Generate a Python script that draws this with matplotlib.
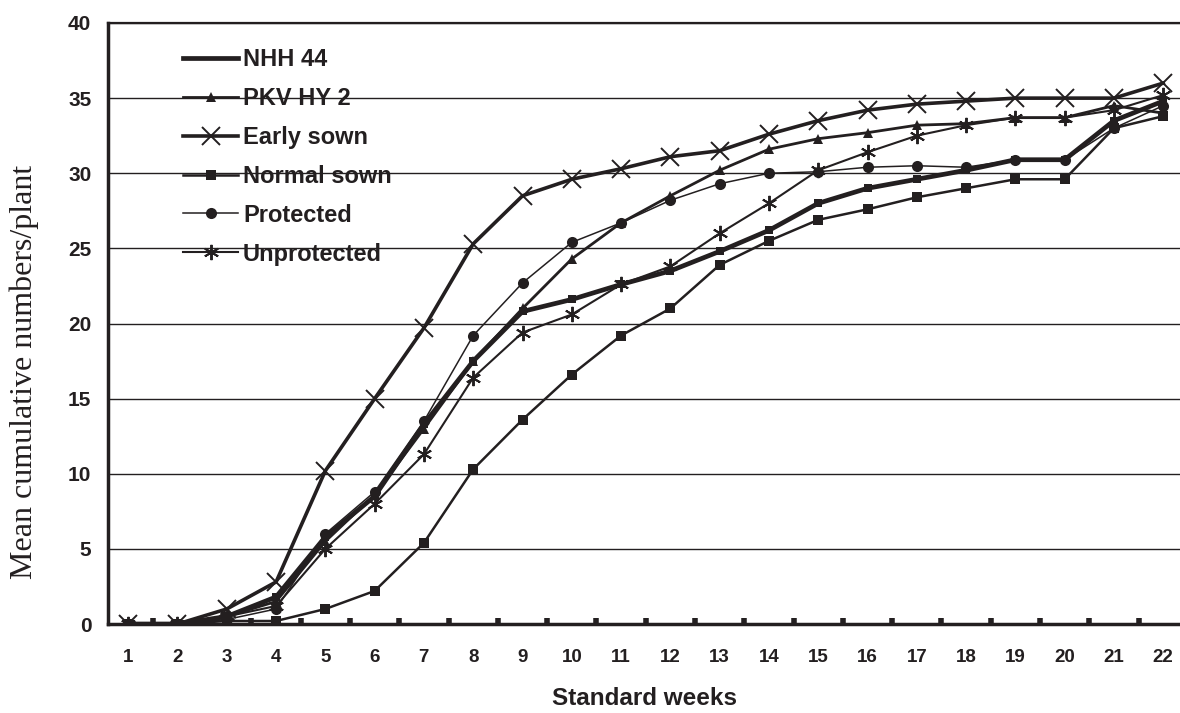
import matplotlib
matplotlib.use("Agg")
import matplotlib.pyplot as plt
from matplotlib.lines import Line2D

weeks = list(range(1, 23))

nhh44 = [0, 0, 0.5, 1.8, 5.8, 8.5, 13.3, 17.5, 20.8, 21.6, 22.6, 23.5, 24.8, 26.2,
         28.0, 29.0, 29.6, 30.2, 30.9, 30.9, 33.5, 34.8]
pkv_hy2 = [0, 0, 0.5, 1.5, 5.5, 8.6, 13.0, 17.5, 21.0, 24.3, 26.7, 28.5, 30.2, 31.6,
           32.3, 32.7, 33.2, 33.3, 33.7, 33.7, 34.5, 34.0]
early_sown = [0, 0, 1.0, 2.8, 10.2, 15.0, 19.7, 25.3, 28.5, 29.6, 30.3, 31.1, 31.5, 32.6,
              33.5, 34.2, 34.6, 34.8, 35.0, 35.0, 35.0, 36.0]
normal_sown = [0, 0, 0.2, 0.2, 1.0, 2.2, 5.4, 10.3, 13.6, 16.6, 19.2, 21.0, 23.9, 25.5,
               26.9, 27.6, 28.4, 29.0, 29.6, 29.6, 33.0, 33.8]
protected = [0, 0, 0.3, 1.0, 6.0, 8.8, 13.5, 19.2, 22.7, 25.4, 26.7, 28.2, 29.3, 30.0,
             30.1, 30.4, 30.5, 30.4, 30.9, 30.9, 33.0, 34.5]
unprotected = [0, 0, 0.5, 1.2, 5.0, 8.0, 11.3, 16.4, 19.4, 20.6, 22.6, 23.8, 26.0, 28.0,
               30.2, 31.4, 32.5, 33.2, 33.7, 33.7, 34.2, 35.2]

labels = ["NHH 44", "PKV HY 2", "Early sown", "Normal sown", "Protected", "Unprotected"]
y_ticks = [0, 5, 10, 15, 20, 25, 30, 35, 40]

ink = "#231f20"

fig = plt.figure(figsize=(11.8, 7.13), dpi=100)
ax = fig.add_axes([108/1180, 1 - 624/713, 1072/1180, 601/713])

series = [
    (nhh44, dict(lw=3.4, marker="s", ms=6, mew=0)),
    (pkv_hy2, dict(lw=2.0, marker="^", ms=7, mew=0)),
    (early_sown, dict(lw=2.6, marker="x", ms=13, mew=1.4)),
    (normal_sown, dict(lw=1.8, marker="s", ms=7, mew=0)),
    (protected, dict(lw=1.1, marker="o", ms=8, mew=0)),
    (unprotected, dict(lw=1.5, marker=(6, 2, 0), ms=11, mew=1.4)),
]
for vals, st in series:
    ax.plot(weeks, vals, color=ink, mfc=ink, mec=ink, solid_joinstyle="round", **st)

ax.set_xlim(0.59, 22.34)
ax.set_ylim(0, 40)
ax.set_yticks(y_ticks)
ax.set_xticks(weeks)
ax.set_xticks([w + 0.5 for w in weeks[:-1]], minor=True)
ax.yaxis.grid(True, color=ink, lw=1.0)
ax.set_axisbelow(True)

ax.spines["right"].set_visible(False)
ax.spines["left"].set_linewidth(2.5)
ax.spines["bottom"].set_linewidth(2.5)
ax.spines["top"].set_linewidth(1.6)
for s in ax.spines.values():
    s.set_color(ink)

ax.tick_params(axis="y", length=0, pad=12, labelsize=15)
ax.tick_params(axis="x", which="major", length=0, pad=18, labelsize=13.5)
ax.tick_params(axis="x", which="minor", direction="in", length=4, width=4, color=ink)
for lab in ax.get_xticklabels() + ax.get_yticklabels():
    lab.set_fontweight("heavy")
    lab.set_family("Liberation Sans")
    lab.set_color(ink)

ax.set_ylabel("Mean cumulative numbers/plant", family="Liberation Serif", fontsize=23,
              color=ink)
ax.yaxis.set_label_coords(-0.064, 0.42)
ax.set_xlabel("Standard weeks", family="Liberation Sans", fontweight="bold", fontsize=17.5,
              color=ink, labelpad=15)

handles = []
for (vals, st), lab in zip(series, labels):
    hs = dict(st)
    if lab == "NHH 44":
        hs["marker"] = None
    handles.append(Line2D([], [], color=ink, mfc=ink, mec=ink, **hs))
leg = ax.legend(handles, labels, loc="upper left", bbox_to_anchor=(0.05, 0.993),
                frameon=False, handlelength=2.35, handletextpad=0.2, labelspacing=0.67,
                prop=dict(family="Liberation Sans", weight="bold", size=17))
for t in leg.get_texts():
    t.set_color(ink)

fig.savefig("out.png", dpi=100, facecolor="white")
